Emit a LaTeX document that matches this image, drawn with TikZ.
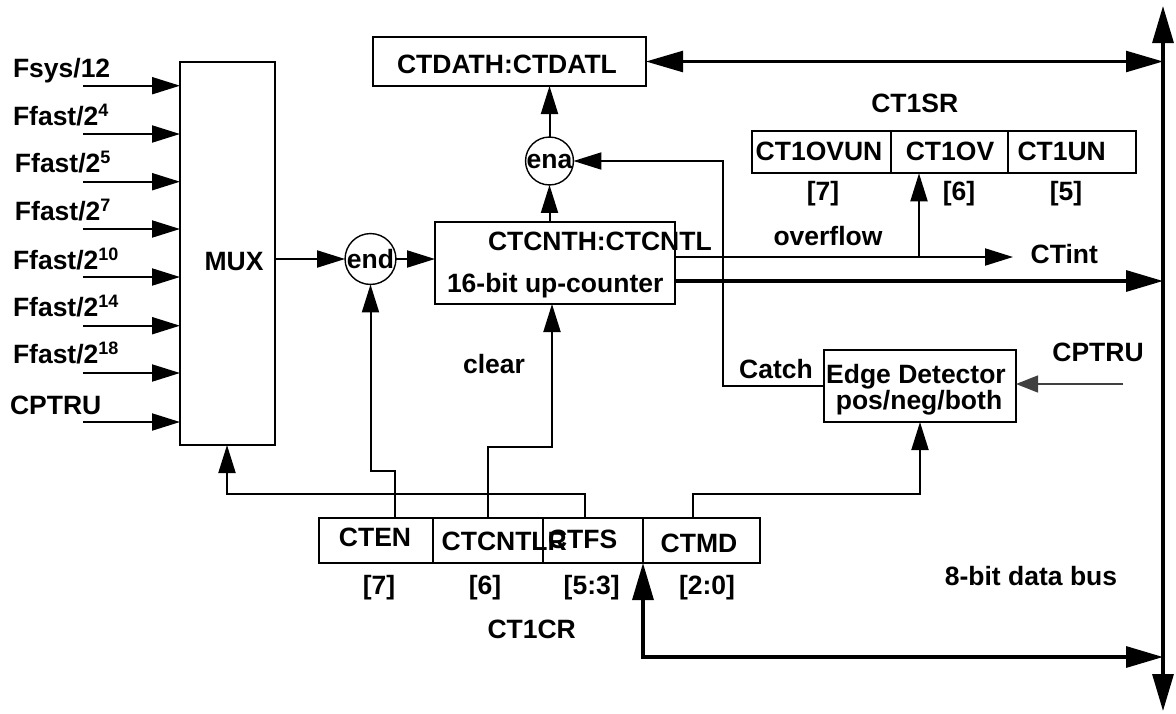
\documentclass[tikz,border=0pt]{standalone}
\usepackage{fontspec}
\setmainfont{Liberation Sans}
\usetikzlibrary{arrows.meta}
\newcommand\supx[1]{\raisebox{9pt}{\fontsize{18}{18}\selectfont #1}}
\begin{document}
\begin{tikzpicture}[x=1pt,y=-1pt,
  every node/.style={font=\fontsize{26.5}{30}\selectfont\bfseries, inner sep=0pt, outer sep=0pt},
  lbl/.style={anchor=base},
  lblw/.style={anchor=base west},
  box/.style={draw, line width=2pt},
  circ/.style={draw, circle, line width=1.4pt, minimum size=47pt},
  wire/.style={line width=2pt},
  thickw/.style={line width=3.2pt},
  sarr/.style={-{Triangle[length=28pt,width=17pt]}},
  barr/.style={-{Triangle[length=37pt,width=21pt]}},
  bboth/.style={{Triangle[length=37pt,width=21pt]}-{Triangle[length=37pt,width=21pt]}}
]
\useasboundingbox (0,0) rectangle (1176,713);

% boxes
\node[box, minimum width=95pt, minimum height=383pt] (mux) at (227.5,253.5) {};
\node[box, minimum width=273pt, minimum height=49pt] (ctdat) at (509.5,61.5) {};
\node[box, minimum width=240pt, minimum height=82pt] (ctcnt) at (555,263) {};
\node[box, minimum width=139pt, minimum height=42.6pt] (sr1) at (821.5,152) {};
\node[box, minimum width=117pt, minimum height=42.6pt] (sr2) at (949.5,152) {};
\node[box, minimum width=128pt, minimum height=42.6pt] (sr3) at (1072,152) {};
\node[box, minimum width=192pt, minimum height=72pt] (edge) at (920,386) {};
\node[box, minimum width=114pt, minimum height=45pt] (cr1) at (376,540.5) {};
\node[box, minimum width=110pt, minimum height=45pt] (cr2) at (488,540.5) {};
\node[box, minimum width=100pt, minimum height=45pt] (cr3) at (593,540.5) {};
\node[box, minimum width=117pt, minimum height=45pt] (cr4) at (701.5,540.5) {};
\node[circ] (endc) at (370.5,259) {end};
\node[circ] (ena) at (549.5,161) {ena};

% labels
\node[lblw] (l1) at (13,77.7) {Fsys/12};
\node[lblw] (l2) at (13,125) {Ffast/2\supx{4}};
\node[lblw] (l3) at (15,172.7) {Ffast/2\supx{5}};
\node[lblw] (l4) at (15,220) {Ffast/2\supx{7}};
\node[lblw] (l5) at (13,269) {Ffast/2\supx{10}};
\node[lblw] (l6) at (13,316.7) {Ffast/2\supx{14}};
\node[lblw] (l7) at (13,363) {Ffast/2\supx{18}};
\node[lblw] (l8) at (10,414) {CPTRU};
\node[lbl] (tmux) at (234,270) {MUX};
\node[lbl] (tdat) at (507,73) {CTDATH:CTDATL};
\node[lblw] (tcnt) at (488,250) {CTCNTH:CTCNTL};
\node[lblw] (tup) at (447,292) {16-bit up-counter};
\node[lbl] (tsr) at (914.7,112.7) {CT1SR};
\node[lbl] (ts1) at (819,160) {CT1OVUN};
\node[lbl] (ts2) at (950,160) {CT1OV};
\node[lbl] (ts3) at (1061.7,160) {CT1UN};
\node[lbl] (bs1) at (823,200) {[7]};
\node[lbl] (bs2) at (959,200) {[6]};
\node[lbl] (bs3) at (1066,200) {[5]};
\node[lbl] (tov) at (828,245) {overflow};
\node[lblw] (tint) at (1030.7,263.3) {CTint};
\node[lbl] (tclr) at (494,373) {clear};
\node[lbl] (tcat) at (776,378.3) {Catch};
\node[lbl] (ted1) at (916,383) {Edge Detector};
\node[lbl] (ted2) at (919,409) {pos/neg/both};
\node[lbl] (tcp) at (1098,361.7) {CPTRU};
\node[lbl] (tc1) at (375,546.7) {CTEN};
\node[lblw] (tc2) at (441.7,550) {CTCNTLR};
\node[lblw] (tc3) at (548,548) {CTFS};
\node[lbl] (tc4) at (699,552) {CTMD};
\node[lbl] (bc1) at (379,594) {[7]};
\node[lbl] (bc2) at (485,594) {[6]};
\node[lbl] (bc3) at (591.7,594) {[5:3]};
\node[lbl] (bc4) at (707,594) {[2:0]};
\node[lbl] (tcr) at (531.7,638) {CT1CR};
\node[lbl] (tbus) at (1031,585.7) {8-bit data bus};

% coordinates
\coordinate (in1) at (83,85.7);
\coordinate (in2) at (83,134);
\coordinate (in3) at (83,181.7);
\coordinate (in4) at (83,229);
\coordinate (in5) at (83,277);
\coordinate (in6) at (83,325.7);
\coordinate (in7) at (83,373);
\coordinate (in8) at (83,422);
\coordinate (bustop) at (1163,6);
\coordinate (busbot) at (1163,711);
\coordinate (b61) at (1163,61.5);
\coordinate (b281) at (1163,281);
\coordinate (b657) at (1163,657);
\coordinate (bl) at (643,657);
\coordinate (catchc) at (723,161);
\coordinate (ovl) at (1013,257);
\coordinate (br) at (919,257);
\coordinate (cptin) at (1123,384);
\coordinate (fsT) at (585,518);
\coordinate (muxc) at (227,494);
\coordinate (enT) at (395,518);
\coordinate (enK) at (395,471);
\coordinate (clT) at (488,518);
\coordinate (clK) at (552,447);
\coordinate (mdT) at (693,518);
\coordinate (mdK) at (920,494);

% wires
\foreach \i in {1,...,8} \draw[wire,sarr] (in\i) -- (mux.west |- in\i);
\draw[wire,sarr] (mux.east |- endc) -- (endc.west);
\draw[wire,sarr] (endc.east) -- (ctcnt.west |- endc);
\draw[wire,sarr] (ena |- ctcnt.north) -- (ena.south);
\draw[wire,sarr] (ena.north) -- (ena |- ctdat.south);
\draw[wire,sarr] (edge.west) -| (catchc) -- (ena.east);
\draw[wire,sarr] (ctcnt.east |- ovl) -- (ovl);
\draw[wire,sarr] (br) -- (br |- sr2.south);
\draw[thickw,barr] (ctcnt.east |- b281) -- (b281);
\draw[line width=1.4pt, black!75, -{Triangle[length=22pt,width=17pt]}] (cptin) -- (edge.east |- cptin);
\draw[line width=2.4pt,bboth] (ctdat.east) -- (b61);
\draw[thickw,bboth] (bustop) -- (busbot);
\draw[thickw,bboth] (cr3.south east) -- (bl) -- (b657);
\draw[wire,sarr] (fsT) |- (muxc) -- (muxc |- mux.south);
\draw[wire,sarr] (enT) -- (enK) -| (endc.south);
\draw[wire,sarr] (clT) |- (clK) -- (clK |- ctcnt.south);
\draw[wire,sarr] (mdT) |- (mdK) -- (edge.south);
\end{tikzpicture}
\end{document}
